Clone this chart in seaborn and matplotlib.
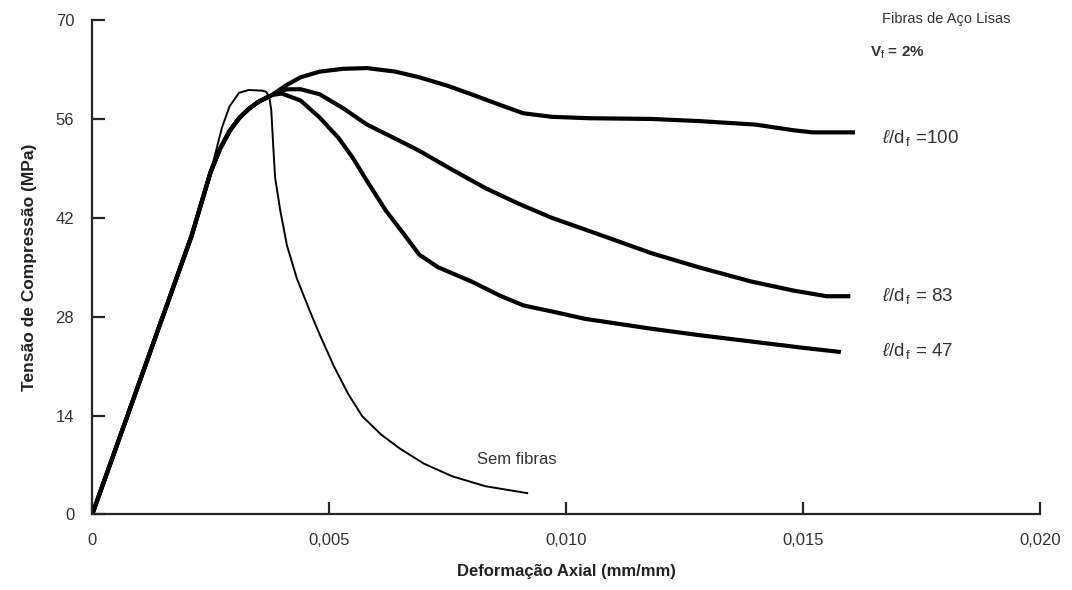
import numpy as np
import pandas as pd
import seaborn as sns
import matplotlib.pyplot as plt

# dados (deformação em mm/mm, tensão em MPa)
base_x = [0, 0.0010, 0.0021, 0.0025]
base_y = [0, 18.8, 39.5, 48.5]

# trecho comum das curvas com fibras até o pico
peak_x = [0.0027, 0.0029, 0.0031, 0.0033, 0.0035, 0.0038]
peak_y = [51.8, 54.3, 56.1, 57.4, 58.4, 59.4]

ld100_x = [0.0041, 0.0044, 0.0048, 0.0053, 0.0058, 0.0064, 0.0069, 0.0075, 0.0080, 0.0086,
           0.0091, 0.0097, 0.0105, 0.0118, 0.0128, 0.0140, 0.0148, 0.0152, 0.0161]
ld100_y = [60.8, 61.9, 62.7, 63.1, 63.2, 62.7, 61.9, 60.7, 59.5, 58.0,
           56.8, 56.3, 56.1, 56.0, 55.7, 55.2, 54.4, 54.1, 54.1]

ld83_x = [0.0041, 0.0044, 0.0048, 0.0053, 0.0058, 0.0064, 0.0069, 0.0076, 0.0083, 0.0090,
          0.0097, 0.0108, 0.0118, 0.0128, 0.0139, 0.0148, 0.0155, 0.0160]
ld83_y = [60.2, 60.2, 59.5, 57.5, 55.2, 53.2, 51.5, 48.8, 46.2, 44.0,
          42.0, 39.4, 37.0, 35.0, 33.0, 31.7, 30.9, 30.9]

ld47_x = [0.0040, 0.0044, 0.0048, 0.0052, 0.0055, 0.0058, 0.0062, 0.0066, 0.0069, 0.0073,
          0.0080, 0.0086, 0.0091, 0.0098, 0.0104, 0.0111, 0.0118, 0.0128, 0.0139, 0.0150, 0.0158]
ld47_y = [59.6, 58.6, 56.2, 53.3, 50.5, 47.2, 43.0, 39.5, 36.8, 35.0,
          33.0, 31.0, 29.6, 28.6, 27.7, 27.0, 26.3, 25.4, 24.5, 23.6, 23.0]

sem_x = [0.00274, 0.0029, 0.0031, 0.0033, 0.0036, 0.00368, 0.00374, 0.00378, 0.00382, 0.00386,
         0.00397, 0.00411, 0.00432, 0.0046, 0.0048, 0.0051, 0.0054, 0.0057, 0.0061, 0.0065,
         0.0070, 0.0076, 0.0083, 0.0092]
sem_y = [54.8, 57.8, 59.7, 60.1, 60.0, 59.8, 59.0, 57.2, 52.3, 47.7,
         43.0, 38.1, 33.4, 28.7, 25.5, 21.0, 17.1, 13.9, 11.3, 9.3,
         7.2, 5.4, 4.0, 3.0]

x_ticks = [0, 0.005, 0.010, 0.015, 0.020]
x_labels = ['0', '0,005', '0,010', '0,015', '0,020']
y_ticks = [0, 14, 28, 42, 56, 70]

sns.set_style('ticks')
plt.rcParams['font.family'] = ['Liberation Sans', 'DejaVu Sans']
plt.rcParams['mathtext.fontset'] = 'custom'
plt.rcParams['mathtext.rm'] = 'Liberation Sans'
plt.rcParams['mathtext.it'] = 'Liberation Sans:italic'

fig = plt.figure(figsize=(10.72, 5.90), dpi=100)
ax = fig.add_axes([0.086, 0.128, 0.884, 0.838])

curvas = {
    'l/d=100': (base_x + peak_x + ld100_x, base_y + peak_y + ld100_y, 3.0),
    'l/d=83': (base_x + peak_x + ld83_x, base_y + peak_y + ld83_y, 3.0),
    'l/d=47': (base_x + peak_x + ld47_x, base_y + peak_y + ld47_y, 3.0),
    'sem': (base_x + sem_x, base_y + sem_y, 1.4),
}
for nome, (xs, ys, lw) in curvas.items():
    df = pd.DataFrame({'x': xs, 'y': ys})
    sns.lineplot(data=df, x='x', y='y', ax=ax, color='black', lw=lw,
                 sort=False, estimator=None, solid_capstyle='butt',
                 solid_joinstyle='round')

ax.set_xlim(0, 0.020)
ax.set_ylim(0, 70)
ax.set_xticks(x_ticks)
ax.set_xticklabels(x_labels)
ax.set_yticks(y_ticks)
sns.despine(ax=ax)
for s in ['left', 'bottom']:
    ax.spines[s].set_linewidth(1.6)
ax.tick_params(direction='in', length=9, width=1.6, pad=13, labelsize=12, labelcolor='#333333')

ax.set_xlabel('Deformação Axial (mm/mm)', fontsize=12, fontweight='bold', labelpad=12, color='#222222')
ax.set_ylabel('Tensão de Compressão (MPa)', fontsize=12.5, fontweight='bold', labelpad=13, color='#222222')

txt = dict(color='#333333', va='center', ha='left')
ax.text(0.01667, 70.1, 'Fibras de Aço Lisas', fontsize=10.5, **txt)
ax.text(0.01641, 65.4, r'V$_\mathrm{f}$ = 2%', fontsize=11, fontweight='bold', **txt)
ax.text(0.01667, 53.3, r'$\ell$/d$_\mathrm{\,f}$ =100', fontsize=13.5, **txt)
ax.text(0.01667, 30.9, r'$\ell$/d$_\mathrm{\,f}$ = 83', fontsize=13.5, **txt)
ax.text(0.01667, 23.2, r'$\ell$/d$_\mathrm{\,f}$ = 47', fontsize=13.5, **txt)
ax.text(0.00812, 7.8, 'Sem fibras', fontsize=12, **txt)

fig.savefig('out.png', dpi=100)
